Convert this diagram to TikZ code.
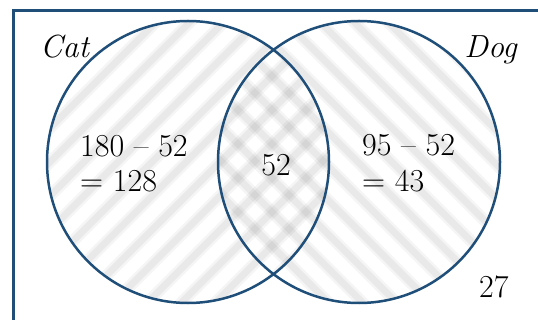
\documentclass[tikz,border=0pt]{standalone}
\usepackage{fontspec}
\setmainfont{Latin Modern Roman}
\definecolor{vblue}{RGB}{31,78,121}
\tikzset{
  frame/.style={draw=vblue, line width=3pt},
  setline/.style={draw=vblue, line width=2.5pt},
  stripeA/.style={draw=black, line width=12pt, opacity=0.04},
  stripeB/.style={draw=black, line width=7pt, opacity=0.05},
  lbl/.style={inner sep=0pt, font=\fontsize{32}{36}\selectfont},
}
\begin{document}
\begin{tikzpicture}[x=1pt,y=-1pt]
\useasboundingbox (0,0) rectangle (538,320);
\clip (0,0) rectangle (538,320);
\coordinate (cA) at (188,162);
\coordinate (cB) at (359,162);
% hatching of Cat circle (/ stripes)
\begin{scope}
  \clip (cA) circle (141pt);
  \foreach \c in {-40,-6,...,760} {
    \draw[stripeA] (\c,-20) -- ++(-420,420);
    \draw[stripeB] (\c,-20) -- ++(-420,420);
  }
\end{scope}
% hatching of Dog circle (\ stripes)
\begin{scope}
  \clip (cB) circle (141pt);
  \foreach \c in {-300,-266,...,560} {
    \draw[stripeA] (\c,-20) -- ++(420,420);
    \draw[stripeB] (\c,-20) -- ++(420,420);
  }
\end{scope}
% outer frame
\draw[frame] (13,11) rectangle (570,350);
% circles
\draw[setline] (cA) circle (141pt);
\draw[setline] (cB) circle (141pt);
% labels
\node[lbl, anchor=base west] (cat) at (40,58) {\itshape Cat};
\node[lbl, anchor=base east] (dog) at (517,58) {\itshape Dog};
\node[lbl, anchor=base west] (l1) at (80,157) {180 – 52};
\node[lbl, anchor=base west] (l2) at (80,192) {= 128};
\node[lbl, anchor=base] (mid) at (276,176) {52};
\node[lbl, anchor=base west] (r1) at (362,156) {95 – 52};
\node[lbl, anchor=base west] (r2) at (362,192) {= 43};
\node[lbl, anchor=base west] (out) at (479,298) {27};
\end{tikzpicture}
\end{document}
